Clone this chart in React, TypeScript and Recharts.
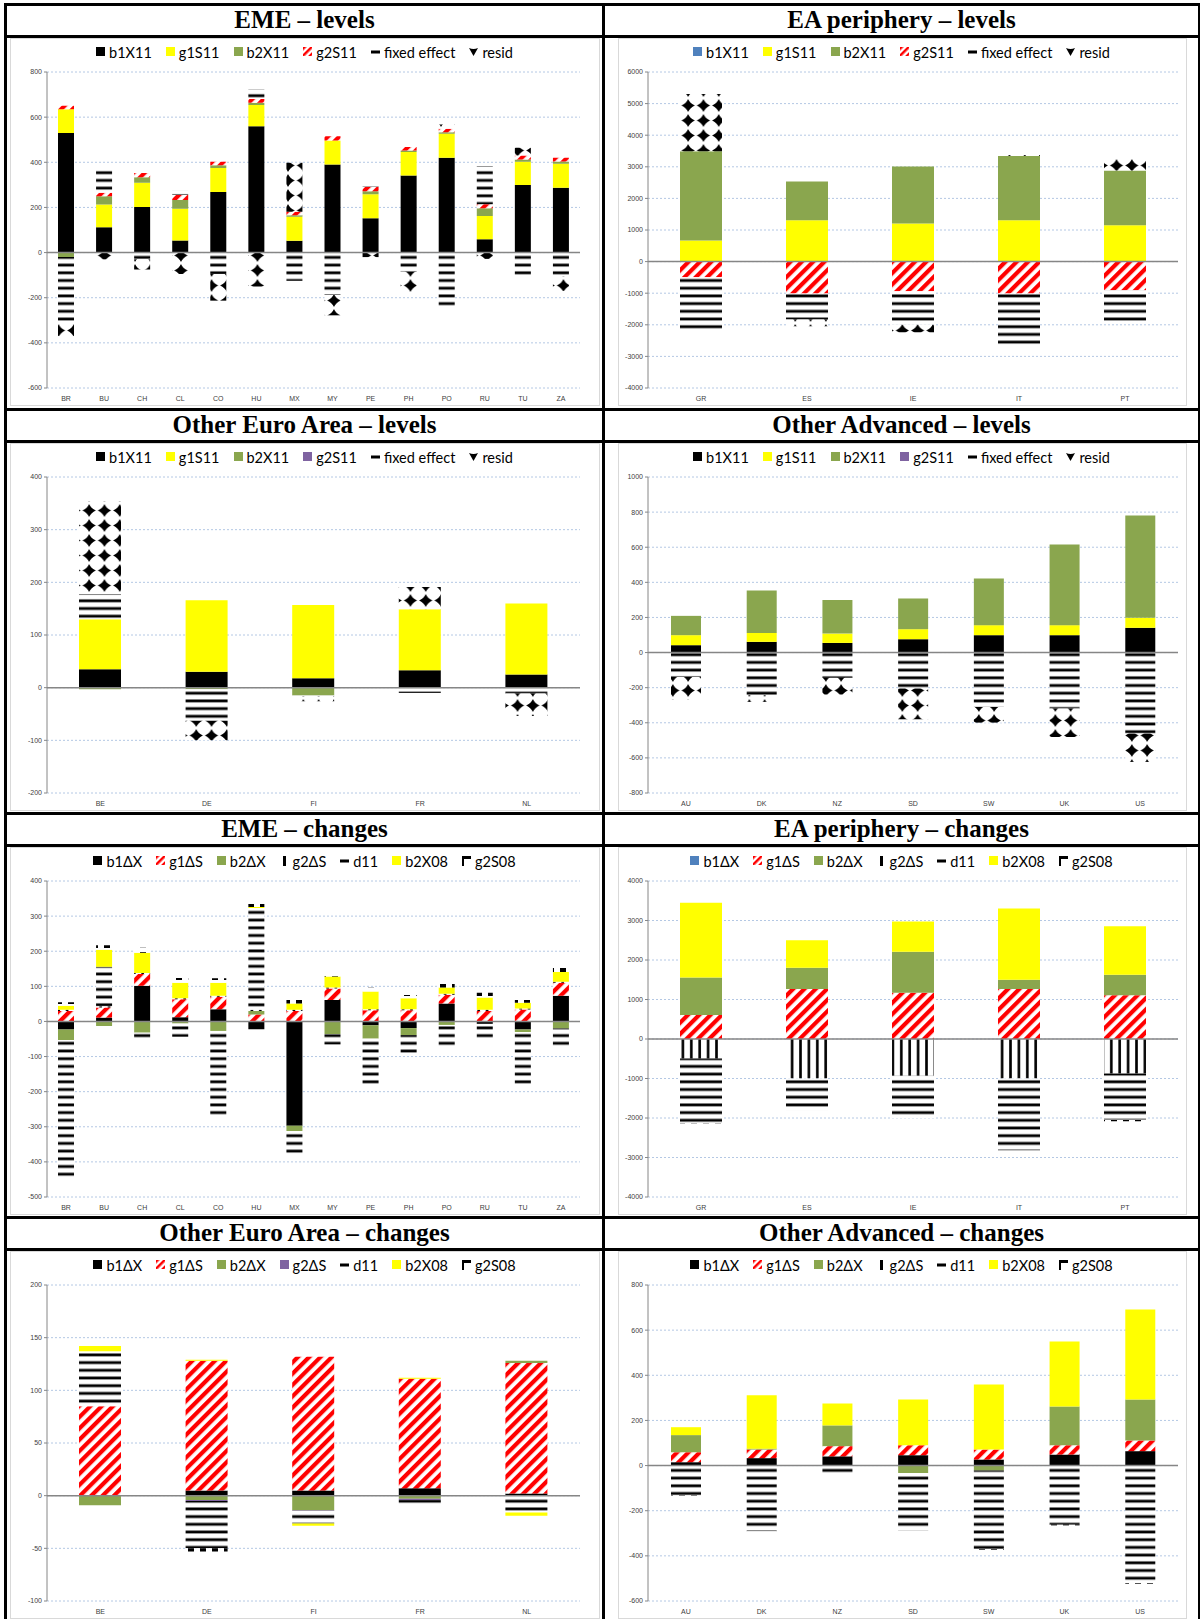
import React from 'react';
import { BarChart, Bar, XAxis, YAxis, CartesianGrid, ReferenceLine } from 'recharts';

// ---------- Panel 1: EME – levels ----------
const emeCats = ['BR', 'BU', 'CH', 'CL', 'CO', 'HU', 'MX', 'MY', 'PE', 'PH', 'PO', 'RU', 'TU', 'ZA'];
const emeLev_b1X11 = [530, 112, 202, 54, 268, 560, 52, 390, 152, 342, 420, 59, 299, 287];
const emeLev_g1S11 = [105, 101, 107, 140, 107, 94, 107, 106, 106, 104, 106, 103, 103, 106];
const emeLev_b2X11 = [-20, 37, 25, 39, 12, 10, 6, -3, 14, 6, 7, 34, 10, 11];
const emeLev_g2S11 = [15, 15, 19, 22, 15, 16, 16, 19, 20, 16, 16, 18, 18, 16];
const emeLev_fixed = [-290, 110, -30, 22, -95, 42, -125, -185, 12, -85, -243, 169, -107, -105];
const emeLev_resid = [-60, -30, -45, -95, -118, -150, 217, -90, -20, -92, 18, -28, 34, -65];
const emeLevTicks = [-600, -400, -200, 0, 200, 400, 600, 800];

// ---------- Panel 2: EA periphery – levels ----------
const eapCats = ['GR', 'ES', 'IE', 'IT', 'PT'];
const eapLev_b1X11 = [0, 0, 0, 0, 0];
const eapLev_g1S11 = [665, 1308, 1203, 1308, 1150];
const eapLev_b2X11 = [2827, 1224, 1803, 2036, 1730];
const eapLev_g2S11 = [-496, -1013, -939, -1013, -907];
const eapLev_fixed = [-1656, -822, -1055, -1645, -1034];
const eapLev_resid = [1814, -210, -242, 30, 369];
const eapLevTicks = [-4000, -3000, -2000, -1000, 0, 1000, 2000, 3000, 4000, 5000, 6000];

// ---------- Panel 3: Other Euro Area – levels ----------
const oeaCats = ['BE', 'DE', 'FI', 'FR', 'NL'];
const oeaLev_b1X11 = [35, 30, 18, 33, 25];
const oeaLev_g1S11 = [95, 136, 139, 116, 135];
const oeaLev_b2X11 = [-3, -3, -15, -1, -1];
const oeaLev_g2S11 = [0, 0, 0, 0, 0];
const oeaLev_fixed = [48, -60, -1, -9, -10];
const oeaLev_resid = [176, -37, -10, 42, -43];
const oeaLevTicks = [-200, -100, 0, 100, 200, 300, 400];

// ---------- Panel 4: Other Advanced – levels ----------
const oadCats = ['AU', 'DK', 'NZ', 'SD', 'SW', 'UK', 'US'];
const oadLev_b1X11 = [42, 61, 55, 76, 99, 99, 141];
const oadLev_g1S11 = [57, 51, 53, 57, 57, 57, 57];
const oadLev_b2X11 = [110, 241, 192, 175, 266, 459, 583];
const oadLev_g2S11 = [0, 0, 0, 0, 0, 0, 0];
const oadLev_fixed = [-139, -243, -144, -205, -310, -319, -462];
const oadLev_resid = [-129, -38, -95, -175, -89, -162, -161];
const oadLevTicks = [-800, -600, -400, -200, 0, 200, 400, 600, 800, 1000];

// ---------- Panel 5: EME – changes ----------
const emeChg_b1dX = [-23, 11, 102, 12, 35, -22, -297, 61, -11, -19, 51, -7, -23, 73];
const emeChg_g1dS = [30, 29, 33, 51, 35, 20, 30, 33, 32, 32, 25, 30, 34, 37];
const emeChg_b2dX = [-30, -13, -32, -6, -27, 10, -15, -36, -38, -20, -10, 0, -7, -20];
const emeChg_g2dS = [3, 3, 3, 3, 3, 3, 3, 3, 3, 3, 3, 3, 3, 3];
const emeChg_d11 = [-391, 113, -19, -38, -243, 290, -70, -30, -130, -55, -62, -43, -152, -52];
const emeChg_b2X08 = [12, 48, 58, 44, 37, 3, 18, 31, 50, 31, 18, 35, 16, 28];
const emeChg_g2S08 = [10, 13, 14, 14, 13, 12, 13, 11, 11, 9, 14, 14, 13, 14];
const emeChgTicks = [-500, -400, -300, -200, -100, 0, 100, 200, 300, 400];

// ---------- Panel 6: EA periphery – changes ----------
const eapChg_b1dX = [0, 0, 0, 0, 0];
const eapChg_g1dS = [610, 1263, 1169, 1263, 1110];
const eapChg_b2dX = [949, 542, 1043, 237, 517];
const eapChg_g2dS = [-492, -1000, -932, -1000, -873];
const eapChg_d11 = [-1652, -805, -1026, -1822, -1169];
const eapChg_b2X08 = [1890, 695, 763, 1805, 1229];
const eapChg_g2S08 = [-42, -42, -50, -34, -43];
const eapChgTicks = [-4000, -3000, -2000, -1000, 0, 1000, 2000, 3000, 4000];

// ---------- Panel 7: Other Euro Area – changes ----------
const oeaChg_b1dX = [0, 5, 5, 7, 2];
const oeaChg_g1dS = [85, 123, 127, 104, 124];
const oeaChg_b2dX = [-9, -4, -14, -3, 2];
const oeaChg_g2dS = [0, -1, -0.5, -1, 0];
const oeaChg_d11 = [52, -45, -12, -6, -16];
const oeaChg_b2X08 = [5, 1, -2, 1, -3];
const oeaChg_g2S08 = [0, -3, 0, 0, 0];
const oeaChgTicks = [-100, -50, 0, 50, 100, 150, 200];

// ---------- Panel 8: Other Advanced – changes ----------
const oadChg_b1dX = [15, 33, 41, 46, 27, 49, 64];
const oadChg_g1dS = [44, 38, 45, 44, 44, 41, 47];
const oadChg_b2dX = [76, 4, 92, -33, -22, 172, 182];
const oadChg_g2dS = [0, 0, 0, 0, 0, 0, 0];
const oadChg_d11 = [-133, -291, -43, -255, -348, -262, -521];
const oadChg_b2X08 = [35, 236, 97, 203, 288, 288, 399];
const oadChg_g2S08 = [-3, -3, -2, -3, -3, -3, -3];
const oadChgTicks = [-600, -400, -200, 0, 200, 400, 600, 800];

// ---------- styles ----------
const BLACK = '#000000';
const YELLOW = '#FFFF00';
const GREEN = '#8AA64E';
const BLUE = '#4F81BD';
const PURPLE = '#7F63A1';
const HATCH = 'url(#pHatch)';
const HSTRIPES = 'url(#pHStripes)';
const DIAMONDS = 'url(#pDiamonds)';
const VSTRIPES = 'url(#pVStripes)';
const BLOCKS = 'url(#pBlocks)';

type Series = { name: string; values: number[]; fill: string };

const levelNames = ['b1X11', 'g1S11', 'b2X11', 'g2S11', 'fixed effect', 'resid'];
const changeNames = ['b1ΔX', 'g1ΔS', 'b2ΔX', 'g2ΔS', 'd11', 'b2X08', 'g2S08'];

function mk(names: string[], vals: number[][], fills: string[]): Series[] {
  return names.map((n, i) => ({ name: n, values: vals[i], fill: fills[i] }));
}

const panels = [
  {
    title: 'EME – levels', col: 0, row: 0, cats: emeCats, ticks: emeLevTicks, barSize: 16,
    series: mk(levelNames, [emeLev_b1X11, emeLev_g1S11, emeLev_b2X11, emeLev_g2S11, emeLev_fixed, emeLev_resid],
      [BLACK, YELLOW, GREEN, HATCH, HSTRIPES, DIAMONDS]),
  },
  {
    title: 'EA periphery – levels', col: 1, row: 0, cats: eapCats, ticks: eapLevTicks, barSize: 42,
    series: mk(levelNames, [eapLev_b1X11, eapLev_g1S11, eapLev_b2X11, eapLev_g2S11, eapLev_fixed, eapLev_resid],
      [BLUE, YELLOW, GREEN, HATCH, HSTRIPES, DIAMONDS]),
  },
  {
    title: 'Other Euro Area – levels', col: 0, row: 1, cats: oeaCats, ticks: oeaLevTicks, barSize: 42,
    series: mk(levelNames, [oeaLev_b1X11, oeaLev_g1S11, oeaLev_b2X11, oeaLev_g2S11, oeaLev_fixed, oeaLev_resid],
      [BLACK, YELLOW, GREEN, PURPLE, HSTRIPES, DIAMONDS]),
  },
  {
    title: 'Other Advanced – levels', col: 1, row: 1, cats: oadCats, ticks: oadLevTicks, barSize: 30,
    series: mk(levelNames, [oadLev_b1X11, oadLev_g1S11, oadLev_b2X11, oadLev_g2S11, oadLev_fixed, oadLev_resid],
      [BLACK, YELLOW, GREEN, PURPLE, HSTRIPES, DIAMONDS]),
  },
  {
    title: 'EME – changes', col: 0, row: 2, cats: emeCats, ticks: emeChgTicks, barSize: 16,
    series: mk(changeNames, [emeChg_b1dX, emeChg_g1dS, emeChg_b2dX, emeChg_g2dS, emeChg_d11, emeChg_b2X08, emeChg_g2S08],
      [BLACK, HATCH, GREEN, VSTRIPES, HSTRIPES, YELLOW, BLOCKS]),
  },
  {
    title: 'EA periphery – changes', col: 1, row: 2, cats: eapCats, ticks: eapChgTicks, barSize: 42,
    series: mk(changeNames, [eapChg_b1dX, eapChg_g1dS, eapChg_b2dX, eapChg_g2dS, eapChg_d11, eapChg_b2X08, eapChg_g2S08],
      [BLUE, HATCH, GREEN, VSTRIPES, HSTRIPES, YELLOW, BLOCKS]),
  },
  {
    title: 'Other Euro Area – changes', col: 0, row: 3, cats: oeaCats, ticks: oeaChgTicks, barSize: 42,
    series: mk(changeNames, [oeaChg_b1dX, oeaChg_g1dS, oeaChg_b2dX, oeaChg_g2dS, oeaChg_d11, oeaChg_b2X08, oeaChg_g2S08],
      [BLACK, HATCH, GREEN, PURPLE, HSTRIPES, YELLOW, BLOCKS]),
  },
  {
    title: 'Other Advanced – changes', col: 1, row: 3, cats: oadCats, ticks: oadChgTicks, barSize: 30,
    series: mk(changeNames, [oadChg_b1dX, oadChg_g1dS, oadChg_b2dX, oadChg_g2dS, oadChg_d11, oadChg_b2X08, oadChg_g2S08],
      [BLACK, HATCH, GREEN, VSTRIPES, HSTRIPES, YELLOW, BLOCKS]),
  },
];

const ROW_TOP = [4, 409, 813, 1217];
const COL_LEFT = [5, 604];
const COL_W = [599, 595];

function LegendIcon({ fill }: { fill: string }) {
  let shape: React.ReactNode;
  if (fill === HSTRIPES) shape = <rect x={0} y={3.5} width={9} height={3} fill={BLACK} />;
  else if (fill === DIAMONDS) shape = <path d="M0,1 Q4.5,3 9,1 L4.5,9 Z" fill={BLACK} />;
  else if (fill === VSTRIPES) shape = <rect x={3} y={0} width={3} height={10} fill={BLACK} />;
  else if (fill === BLOCKS)
    shape = (
      <g>
        <rect x={0} y={0} width={9} height={3} fill={BLACK} />
        <rect x={0} y={0} width={2} height={10} fill={BLACK} />
      </g>
    );
  else if (fill === HATCH) shape = <rect x={0} y={0} width={9} height={9} fill="url(#pHatchL)" />;
  else shape = <rect x={0} y={0} width={9} height={9} fill={fill} />;
  return (
    <svg width={10} height={10} style={{ marginRight: 3, display: 'block' }}>
      {shape}
    </svg>
  );
}

function Panel({ p }: { p: any }) {
  const top = ROW_TOP[p.row];
  const left = COL_LEFT[p.col];
  const w = COL_W[p.col];
  const data = p.cats.map((c: string, i: number) => {
    const o: any = { cat: c };
    p.series.forEach((s: Series, j: number) => {
      o['s' + j] = s.values[i];
    });
    return o;
  });
  const ticks: number[] = p.ticks;
  const frameLeft = p.col === 0 ? 10 : 618;
  const frameW = p.col === 0 ? 590 : 569;
  return (
    <>
      <div
        style={{
          position: 'absolute', left, top: top + 1, width: w, height: 30,
          display: 'flex', alignItems: 'center', justifyContent: 'center',
          fontFamily: '"Liberation Serif", "Times New Roman", serif', fontWeight: 'bold', fontSize: 25,
        }}
      >
        {p.title}
      </div>
      <div
        style={{
          position: 'absolute', left: frameLeft, top: top + 34, width: frameW, height: 368,
          border: '1px solid #D9D9D9', boxSizing: 'border-box',
        }}
      />
      <div
        style={{
          position: 'absolute', left, top: top + 38, width: w, height: 20,
          display: 'flex', alignItems: 'center', justifyContent: 'center', gap: 14,
          fontFamily: 'Lato, "Open Sans", sans-serif', fontSize: 14.5, color: '#000',
        }}
      >
        {p.series.map((s: Series) => (
          <span key={s.name} style={{ display: 'flex', alignItems: 'center' }}>
            <LegendIcon fill={s.fill} />
            {s.name}
          </span>
        ))}
      </div>
      <div style={{ position: 'absolute', left, top: top + 34 }}>
        <BarChart
          width={w}
          height={370}
          data={data}
          stackOffset="sign"
          margin={{ top: 34, right: p.col === 0 ? 24 : 21, bottom: 6, left: p.col === 0 ? 7 : 9 }}
        >
          <CartesianGrid vertical={false} stroke="#B4C8E4" strokeDasharray="2 2" />
          <XAxis
            dataKey="cat"
            interval={0}
            axisLine={false}
            tickLine={false}
            tickSize={6}
            height={14}
            tick={{ fontSize: 7, fill: '#404040', fontFamily: '"Liberation Sans", Arial, sans-serif' }}
          />
          <YAxis
            domain={[ticks[0], ticks[ticks.length - 1]]}
            ticks={ticks}
            interval={0}
            allowDataOverflow
            width={35}
            tickSize={3}
            stroke="#868686"
            tick={{ fontSize: 7, fill: '#404040', fontFamily: '"Liberation Sans", Arial, sans-serif' }}
          />
          {p.series.map((s: Series, j: number) => (
            <Bar
              key={s.name}
              dataKey={'s' + j}
              name={s.name}
              stackId="a"
              fill={s.fill}
              barSize={p.barSize}
              isAnimationActive={false}
            />
          ))}
          <ReferenceLine y={0} stroke="#868686" strokeWidth={1.5} />
        </BarChart>
      </div>
    </>
  );
}

export default function App() {
  return (
    <div style={{ position: 'absolute', left: 0, top: 0, width: 1200, height: 1619, background: '#fff', overflow: 'hidden' }}>
      <svg width={0} height={0} style={{ position: 'absolute' }}>
        <defs>
          <pattern id="pHatch" patternUnits="userSpaceOnUse" width={8} height={8} patternTransform="rotate(45)">
            <rect x={0} y={0} width={8} height={8} fill="#fff" />
            <rect x={0} y={0} width={4.2} height={8} fill="#FF0000" />
          </pattern>
          <pattern id="pHatchL" patternUnits="userSpaceOnUse" width={5} height={5} patternTransform="rotate(45)">
            <rect x={0} y={0} width={5} height={5} fill="#fff" />
            <rect x={0} y={0} width={2.5} height={5} fill="#FF0000" />
          </pattern>
          <pattern id="pHStripes" patternUnits="userSpaceOnUse" width={8} height={7.7}>
            <rect x={0} y={0} width={8} height={7.7} fill="#fff" />
            <rect x={0} y={2.4} width={8} height={2.8} fill="#000" />
          </pattern>
          <pattern id="pVStripes" patternUnits="userSpaceOnUse" width={8.4} height={8}>
            <rect x={0} y={0} width={8.4} height={8} fill="#fff" />
            <rect x={2} y={0} width={2.6} height={8} fill="#000" />
          </pattern>
          <pattern id="pDiamonds" patternUnits="userSpaceOnUse" width={15.3} height={15}>
            <rect x={0} y={0} width={15.3} height={15} fill="#fff" />
            <path d="M7.65,1 Q9.5,5.5 14.3,7.5 Q9.5,9.5 7.65,14 Q5.8,9.5 1,7.5 Q5.8,5.5 7.65,1 Z" fill="#000" />
            <polygon points="7.65,2.5 12.6,7.5 7.65,12.5 2.7,7.5" fill="#000" />
          </pattern>
          <pattern id="pBlocks" patternUnits="userSpaceOnUse" width={12} height={8}>
            <rect x={0} y={0} width={12} height={8} fill="#fff" />
            <rect x={3} y={1} width={6} height={4} fill="#000" />
          </pattern>
        </defs>
      </svg>
      {panels.map((p, i) => (
        <Panel key={i} p={p} />
      ))}
      {ROW_TOP.map((t, i) => (
        <div key={'h' + i} style={{ position: 'absolute', left: 4, top: t - 1, width: 1196, height: 3, background: '#000' }} />
      ))}
      {ROW_TOP.map((t, i) => (
        <div key={'hb' + i} style={{ position: 'absolute', left: 4, top: t + 31, width: 1196, height: 3, background: '#000' }} />
      ))}
      <div style={{ position: 'absolute', left: 4, top: 3, width: 3, height: 1616, background: '#000' }} />
      <div style={{ position: 'absolute', left: 602, top: 3, width: 3, height: 1616, background: '#000' }} />
      <div style={{ position: 'absolute', left: 1198, top: 3, width: 2, height: 1616, background: '#000' }} />
    </div>
  );
}
